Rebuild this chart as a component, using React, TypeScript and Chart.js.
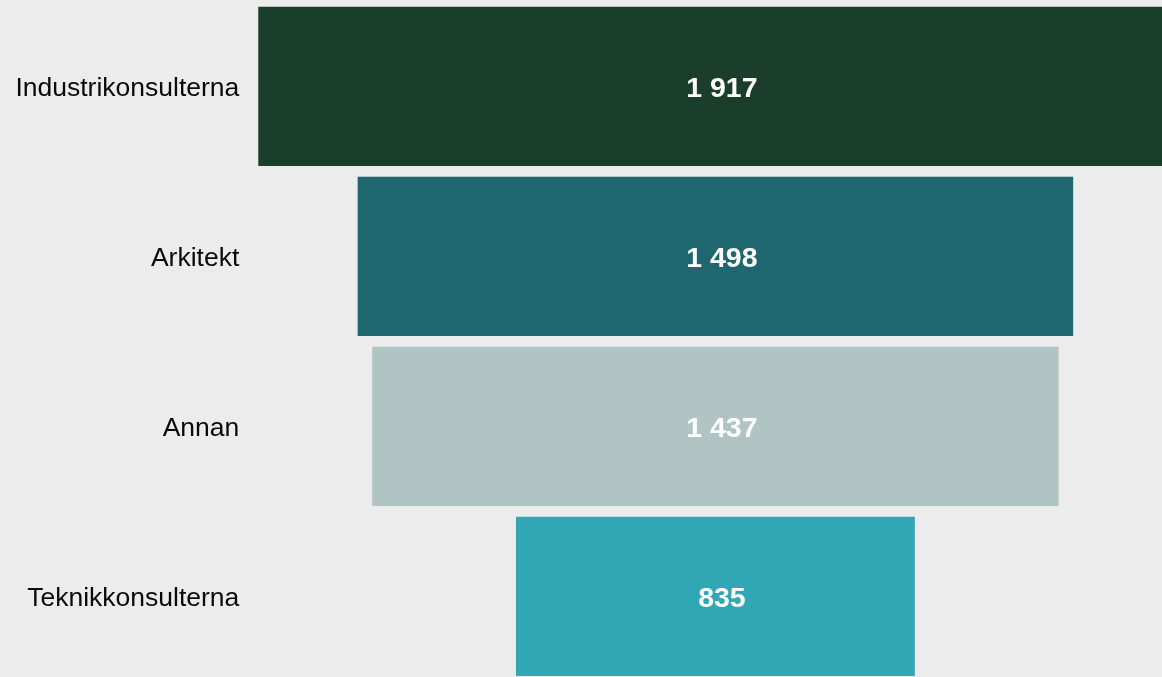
import React, { useEffect, useRef } from "react";
import { Chart, registerables } from "chart.js";

Chart.register(...registerables);

const categories = ["Industrikonsulterna", "Arkitekt", "Annan", "Teknikkonsulterna"];
const values = [1917, 1498, 1437, 835];
const barColors = ["#1b3d2b", "#1e676e", "#b1c4c4", "#31a6b5"];

const fmt = (v: number) => String(v).replace(/\B(?=(\d{3})+(?!\d))/g, " ");

const labelPlugin = {
  id: "funnelLabels",
  afterDatasetsDraw(chart: any) {
    const ctx = chart.ctx;
    const meta = chart.getDatasetMeta(0);
    ctx.save();
    ctx.font = "bold 28.5px 'Liberation Sans', Arial, sans-serif";
    ctx.fillStyle = "#ffffff";
    ctx.textAlign = "center";
    ctx.textBaseline = "middle";
    meta.data.forEach((el: any, i: number) => {
      const cx = (el.x + el.base) / 2 + 6.5;
      ctx.fillText(fmt(values[i]), cx, el.y + 3);
    });
    ctx.restore();
  },
};

export default function App() {
  const ref = useRef<HTMLCanvasElement | null>(null);
  useEffect(() => {
    document.body.style.margin = "0";
    document.body.style.background = "#ececec";
    if (!ref.current) return;
    const chart = new Chart(ref.current, {
      type: "bar",
      data: {
        labels: categories,
        datasets: [
          {
            data: values.map((v) => [-v / 2, v / 2]) as any,
            backgroundColor: barColors,
            borderWidth: 0,
            categoryPercentage: 1,
            barPercentage: 0.937,
          },
        ],
      },
      options: {
        indexAxis: "y",
        responsive: false,
        animation: false,
        devicePixelRatio: 1,
        layout: { padding: { top: 1.4, bottom: 0.6, left: 0, right: 0 } },
        plugins: {
          legend: { display: false },
          tooltip: { enabled: false },
        },
        scales: {
          x: {
            display: false,
            min: -957,
            max: 935,
          },
          y: {
            grid: { display: false, drawTicks: false },
            border: { display: false },
            ticks: {
              padding: 19,
              labelOffset: 2.5,
              color: "#0a0a0a",
              font: { family: "'Liberation Sans', Arial, sans-serif", size: 26.5 },
            },
            afterFit(scale: any) {
              scale.width = 258.3;
              scale.paddingTop = 0;
              scale.paddingBottom = 0;
            },
          },
        },
      },
      plugins: [labelPlugin],
    });
    return () => chart.destroy();
  }, []);
  return (
    <div
      style={{
        position: "fixed",
        left: 0,
        top: 0,
        width: 1162,
        height: 677,
        overflow: "hidden",
        background: "#ececec",
      }}
    >
      <canvas ref={ref} width={1162} height={682} style={{ display: "block" }} />
    </div>
  );
}
